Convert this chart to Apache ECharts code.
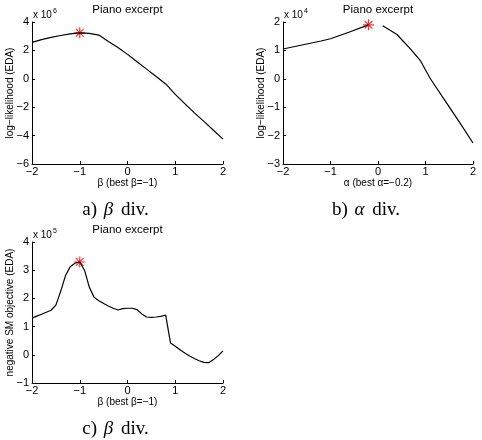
<!DOCTYPE html>
<html>
<head>
<meta charset="utf-8">
<script src="https://cdn.jsdelivr.net/npm/echarts@6/dist/echarts.min.js"></script>
<style>
  html, body { margin: 0; padding: 0; background: #fff; }
  #chart { width: 482px; height: 440px; }
</style>
</head>
<body>
<div id="chart"></div>
<script>
// a) beta divergence, log-likelihood (x 10^6)
const betaX = [-2, -1.8, -1.6, -1.4, -1.2, -1, -0.8, -0.6, -0.4, -0.2, 0,
  0.2, 0.4, 0.6, 0.8, 1, 1.2, 1.4, 1.6, 1.8, 2];
const betaLL = [2.56, 2.76, 2.92, 3.05, 3.16, 3.24, 3.2, 3.08, 2.62, 2.2, 1.72,
  1.2, 0.68, 0.16, -0.36, -1.1, -1.75, -2.4, -3.0, -3.62, -4.25];
const bestBetaA = [-1, 3.24];

// b) alpha divergence, log-likelihood (x 10^4), no value at alpha = 0
const alphaX = [-2, -1.6, -1.2, -1, -0.6, -0.2, 0, 0.1, 0.4, 0.7, 0.9, 1, 1.1,
  1.4, 1.7, 2];
const alphaLL = [1.05, 1.19, 1.33, 1.41, 1.65, 1.9, null, 1.87, 1.56, 1.02, 0.62,
  0.31, 0.01, -0.74, -1.49, -2.26];
const bestAlpha = [-0.2, 1.9];

// c) beta divergence, negative SM objective (x 10^5)
const smX = [-2, -1.9, -1.8, -1.7, -1.6, -1.5, -1.4, -1.3, -1.2, -1.1, -1,
  -0.9, -0.8, -0.7, -0.6, -0.5, -0.4, -0.3, -0.2, -0.1, 0,
  0.1, 0.2, 0.3, 0.4, 0.5, 0.6, 0.7, 0.8, 0.9, 1,
  1.1, 1.2, 1.3, 1.4, 1.5, 1.6, 1.7, 1.8, 1.9, 2];
const smObj = [1.3, 1.37, 1.44, 1.51, 1.58, 1.76, 2.25, 2.8, 3.12, 3.25, 3.29,
  3.0, 2.4, 2.04, 1.92, 1.82, 1.73, 1.65, 1.59, 1.64, 1.65,
  1.65, 1.6, 1.45, 1.34, 1.33, 1.34, 1.36, 1.41, 0.42, 0.3,
  0.18, 0.06, -0.04, -0.13, -0.21, -0.27, -0.28, -0.17, -0.03, 0.14];
const bestBetaC = [-1, 3.29];

const xTicks = { min: -2, max: 2, interval: 1 };
const yTicksA = { min: -6, max: 4, interval: 2 };
const yTicksB = { min: -3, max: 2, interval: 1 };
const yTicksC = { min: -1, max: 4, interval: 1 };

const titles = ["Piano excerpt", "Piano excerpt", "Piano excerpt"];
const xNames = ["β (best β=−1)", "α (best α=−0.2)", "β (best β=−1)"];
const yNames = ["log−likelihood (EDA)", "log−likelihood (EDA)", "negative SM objective (EDA)"];
const exponents = ["6", "4", "5"];
const captions = [["a) ", "β", " div."], ["b) ", "α", " div."], ["c) ", "β", " div."]];

const zip = (xs, ys) => xs.map((x, i) => [x, ys[i]]);
const minus = (v) => String(v).replace("-", "−");

const sans = "Liberation Sans";
const serif = "Liberation Serif";

// asterisk marker like matlab '*'
const asterisk = "path://M0,5L10,5M5,0L5,10M1.5,1.5L8.5,8.5M8.5,1.5L1.5,8.5";

const grids = [
  { left: 32, top: 22, width: 191, height: 142 },
  { left: 283, top: 22, width: 190, height: 142 },
  { left: 32, top: 242, width: 191, height: 141 },
];

const chart = echarts.init(document.getElementById("chart"));

const axisCommon = {
  axisLine: { onZero: false, lineStyle: { color: "#000", width: 1 } },
  axisTick: { inside: true, length: 3, lineStyle: { color: "#000" } },
  splitLine: { show: false },
  nameMoveOverlap: false,
  nameTextStyle: { fontFamily: sans, fontSize: 10, color: "#000" },
};

const xAxes = grids.map((g, i) => ({
  ...axisCommon,
  type: "value",
  gridIndex: i,
  ...xTicks,
  name: xNames[i],
  nameLocation: "middle",
  nameGap: 14,
  axisLabel: { fontFamily: sans, fontSize: 11, color: "#000", margin: 2, formatter: minus },
}));

const yTickSets = [yTicksA, yTicksB, yTicksC];
const yAxes = grids.map((g, i) => ({
  ...axisCommon,
  type: "value",
  gridIndex: i,
  ...yTickSets[i],
  name: yNames[i],
  nameLocation: "middle",
  nameGap: 17,
  axisLabel: { fontFamily: sans, fontSize: 11, color: "#000", margin: 3, formatter: minus },
}));

const curves = [zip(betaX, betaLL), zip(alphaX, alphaLL), zip(smX, smObj)];
const bests = [bestBetaA, bestAlpha, bestBetaC];

const series = [];
curves.forEach((data, i) => {
  series.push({
    type: "line",
    xAxisIndex: i,
    yAxisIndex: i,
    data: data,
    showSymbol: false,
    connectNulls: false,
    lineStyle: { color: "#000", width: 1.2 },
    animation: false,
  });
  series.push({
    type: "scatter",
    xAxisIndex: i,
    yAxisIndex: i,
    data: [bests[i]],
    symbol: asterisk,
    symbolSize: 11,
    itemStyle: { color: "rgba(0,0,0,0)", borderColor: "#ff0000", borderWidth: 1.2 },
    animation: false,
  });
});

const graphics = [];
grids.forEach((g, i) => {
  // title over each plot
  graphics.push({
    type: "text", x: g.left + g.width / 2, y: g.top - 12,
    style: { text: titles[i], fontFamily: sans, fontSize: 11.5, fill: "#000", align: "center", verticalAlign: "middle" },
  });
  // "x 10^n" multiplier
  graphics.push({
    type: "text", x: g.left + 1, y: g.top - 7,
    style: { text: "x 10", fontFamily: sans, fontSize: 10, fill: "#000", align: "left", verticalAlign: "middle" },
  });
  graphics.push({
    type: "text", x: g.left + 21, y: g.top - 11,
    style: { text: exponents[i], fontFamily: sans, fontSize: 7, fill: "#000", align: "left", verticalAlign: "middle" },
  });
  // caption below
  const c = captions[i];
  graphics.push({
    type: "text", x: g.left + g.width / 2 - 12, y: g.top + g.height + 46,
    style: {
      text: "{n|" + c[0] + "}{g|" + c[1] + "}{n|" + c[2] + "}",
      align: "center", verticalAlign: "middle",
      rich: {
        n: { fontFamily: serif, fontSize: 19, fill: "#000" },
        g: { fontFamily: serif, fontSize: 19, fontStyle: "italic", fill: "#000", padding: [0, 3, 0, 2] },
      },
    },
  });
});

chart.setOption({
  animation: false,
  backgroundColor: "#fff",
  grid: grids,
  xAxis: xAxes,
  yAxis: yAxes,
  series: series,
  graphic: graphics,
});
</script>
</body>
</html>
